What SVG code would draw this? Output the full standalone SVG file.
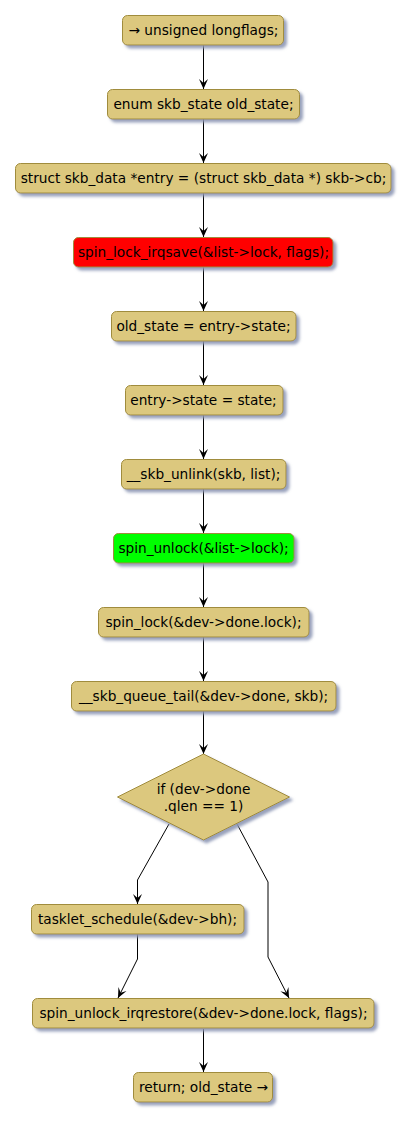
<svg xmlns="http://www.w3.org/2000/svg" width="409" height="1121" viewBox="0 0 409 1121">
<defs>
<filter id="sh" x="-10%" y="-20%" width="130%" height="160%">
<feGaussianBlur in="SourceAlpha" stdDeviation="1.5"/>
<feOffset dx="3" dy="3" result="b"/>
<feFlood flood-color="#8c96b4" flood-opacity="0.9"/>
<feComposite in2="b" operator="in"/>
<feMerge><feMergeNode/><feMergeNode in="SourceGraphic"/></feMerge>
</filter>
<marker id="ah" viewBox="0 0 10 10" refX="10" refY="5" markerWidth="10" markerHeight="10" markerUnits="userSpaceOnUse" orient="auto">
<path d="M0,0.5 L10,5 L0,9.5 L4,5 Z" fill="#000"/>
</marker>
</defs>
<style>
.n{fill:#dcc87e;stroke:#a08c3c;stroke-width:1;filter:url(#sh)}
.r{fill:#ff0000}
.g{fill:#00ff00}
text{font-family:"DejaVu Sans",sans-serif;font-size:13.7px;fill:#000;text-anchor:middle}
.c{fill:none;stroke:#000;stroke-width:1;marker-end:url(#ah)}
</style>
<rect width="409" height="1121" fill="#fff"/>
<g id="connectors">
<path class="c" d="M203.5,45 V89"/>
<path class="c" d="M203.5,119 V163"/>
<path class="c" d="M203.5,193 V237"/>
<path class="c" d="M203.5,267 V311"/>
<path class="c" d="M203.5,341 V385"/>
<path class="c" d="M203.5,415 V459"/>
<path class="c" d="M203.5,489 V533"/>
<path class="c" d="M203.5,563 V607"/>
<path class="c" d="M203.5,637 V681"/>
<path class="c" d="M203.5,711 V754"/>
<path class="c" d="M169,824 L137.5,880 V904"/>
<path class="c" d="M237,824 L268,882 V957 L289,998"/>
<path class="c" d="M137.5,934 V959 L118,998"/>
<path class="c" d="M203.5,1029 V1072"/>
</g>
<g id="n1"><rect class="n" x="122.5" y="15.5" width="161" height="29.5" rx="5"/><text x="203.5" y="35">→ unsigned longflags;</text></g>
<g id="n2"><rect class="n" x="107.5" y="89.5" width="192" height="29.5" rx="5"/><text x="203.5" y="109">enum skb_state old_state;</text></g>
<g id="n3"><rect class="n" x="15.5" y="163.5" width="375.5" height="29.5" rx="5"/><text x="203.5" y="183">struct skb_data *entry = (struct skb_data *) skb-&gt;cb;</text></g>
<g id="n4"><rect class="n r" x="73.5" y="237.5" width="259.5" height="29.5" rx="5"/><text x="203.5" y="257">spin_lock_irqsave(&amp;list-&gt;lock, flags);</text></g>
<g id="n5"><rect class="n" x="111.5" y="311.5" width="184.5" height="29.5" rx="5"/><text x="203.5" y="331">old_state = entry-&gt;state;</text></g>
<g id="n6"><rect class="n" x="125.5" y="385.5" width="157.5" height="29.5" rx="5"/><text x="203.5" y="405">entry-&gt;state = state;</text></g>
<g id="n7"><rect class="n" x="121.5" y="459.5" width="164.5" height="29.5" rx="5"/><text x="203.5" y="479">__skb_unlink(skb, list);</text></g>
<g id="n8"><rect class="n g" x="113.5" y="533.5" width="180.5" height="29.5" rx="5"/><text x="203.5" y="553">spin_unlock(&amp;list-&gt;lock);</text></g>
<g id="n9"><rect class="n" x="98.5" y="607.5" width="210.5" height="29.5" rx="5"/><text x="203.5" y="627">spin_lock(&amp;dev-&gt;done.lock);</text></g>
<g id="n10"><rect class="n" x="71.5" y="681.5" width="264.5" height="29.5" rx="5"/><text x="203.5" y="701">__skb_queue_tail(&amp;dev-&gt;done, skb);</text></g>
<g id="n11"><polygon class="n" points="203.5,754 289.5,797 203.5,840 117.5,797"/><text x="203.5" y="794">if (dev-&gt;done</text><text x="203.5" y="811">.qlen == 1)</text></g>
<g id="n12"><rect class="n" x="31.5" y="904.5" width="212.5" height="29.5" rx="5"/><text x="137.5" y="924">tasklet_schedule(&amp;dev-&gt;bh);</text></g>
<g id="n13"><rect class="n" x="32.5" y="998.5" width="341.5" height="29.5" rx="5"/><text x="203.5" y="1018">spin_unlock_irqrestore(&amp;dev-&gt;done.lock, flags);</text></g>
<g id="n14"><rect class="n" x="133.5" y="1072.5" width="139" height="29.5" rx="5"/><text x="203.5" y="1092">return; old_state →</text></g>
</svg>
